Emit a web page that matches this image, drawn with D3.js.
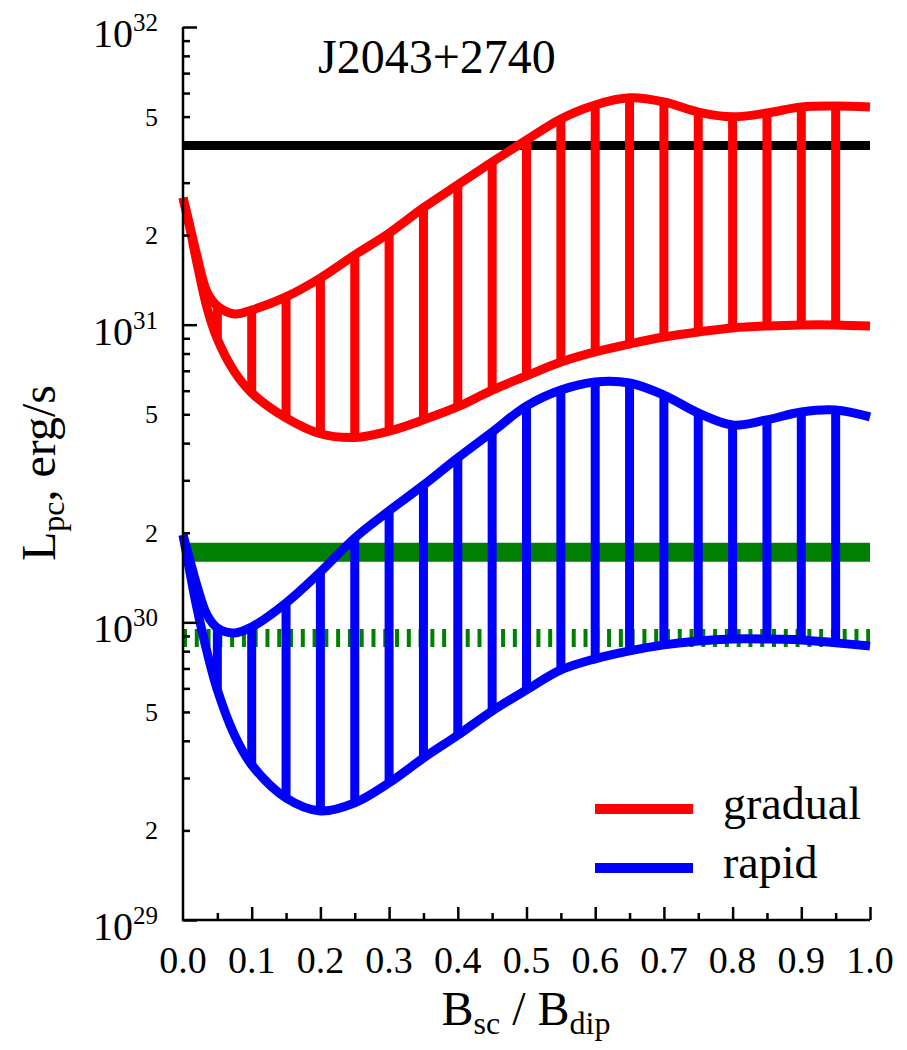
<!DOCTYPE html>
<html>
<head>
<meta charset="utf-8">
<script src="https://cdn.jsdelivr.net/npm/d3@7"></script>
<style>
  body { margin: 0; background: #fff; }
</style>
</head>
<body>
<div id="chart"></div>
<script>
// B_sc / B_dip sample points
const xs = [0, 0.01, 0.02, 0.035, 0.05, 0.075, 0.1, 0.15, 0.2, 0.25, 0.3, 0.35, 0.4, 0.45,
            0.5, 0.55, 0.6, 0.65, 0.7, 0.75, 0.8, 0.85, 0.9, 0.95, 1.0];

// gradual (red) upper / lower limits, erg/s
const gradualUpper = [2.67e31, 2.145e31, 1.715e31, 1.288e31, 1.155e31, 1.086e31, 1.12e31, 1.24e31,
                      1.435e31, 1.715e31, 2.03e31, 2.47e31, 2.95e31, 3.52e31, 4.17e31, 4.91e31,
                      5.47e31, 5.78e31, 5.60e31, 5.18e31, 4.99e31, 5.14e31, 5.39e31, 5.43e31, 5.39e31];
const gradualLower = [2.67e31, 2.11e31, 1.624e31, 1.138e31, 8.95e30, 6.94e30, 5.90e30, 4.86e30,
                      4.30e30, 4.18e30, 4.39e30, 4.79e30, 5.30e30, 6.03e30, 6.73e30, 7.49e30,
                      8.10e30, 8.61e30, 9.09e30, 9.45e30, 9.75e30, 9.90e30, 9.98e30, 9.98e30, 9.90e30];

// rapid (blue) upper / lower limits, erg/s
const rapidUpper = [1.966e30, 1.62e30, 1.335e30, 1.059e30, 9.58e29, 9.21e29, 9.65e29, 1.162e30,
                    1.477e30, 1.92e30, 2.37e30, 2.89e30, 3.57e30, 4.36e30, 5.33e30, 6.03e30,
                    6.42e30, 6.37e30, 5.80e30, 5.05e30, 4.60e30, 4.79e30, 5.09e30, 5.17e30, 4.90e30];
const rapidLower = [1.966e30, 1.477e30, 1.126e30, 7.95e29, 5.93e29, 4.18e29, 3.32e29, 2.57e29,
                    2.325e29, 2.475e29, 2.89e29, 3.50e29, 4.18e29, 5.04e29, 5.93e29, 6.92e29,
                    7.54e29, 8.02e29, 8.40e29, 8.66e29, 8.79e29, 8.79e29, 8.73e29, 8.53e29, 8.33e29];

// horizontal reference levels
const blackLevel = 4.0e31;
const greenSolidLevel = 1.72e30;
const greenDottedLevel = 8.86e29;

// ticks
const xMajor = [0, 0.1, 0.2, 0.3, 0.4, 0.5, 0.6, 0.7, 0.8, 0.9, 1.0];
const xMinor = [0.05, 0.15, 0.25, 0.35, 0.45, 0.55, 0.65, 0.75, 0.85, 0.95];
const decades = [29, 30, 31, 32];
const minorMult = [2, 3, 4, 5, 6, 7, 8, 9];
const labelMult = [2, 5];

const FONT = "'Liberation Serif', 'Times New Roman', Times, 'DejaVu Serif', serif";
const W = 907, H = 1050;
const svg = d3.select("#chart").append("svg")
    .attr("width", W)
    .attr("height", H)
    .attr("font-family", FONT)
    .style("font-family", FONT);

const x = d3.scaleLinear().domain([0, 1]).range([183, 870]);
const y = d3.scaleLog().domain([1e29, 1e32]).range([920, 27]);

// reference lines
svg.append("line")
    .attr("x1", x(0)).attr("x2", x(1))
    .attr("y1", y(blackLevel)).attr("y2", y(blackLevel))
    .attr("stroke", "#000").attr("stroke-width", 9);

svg.append("line")
    .attr("x1", x(0)).attr("x2", x(1))
    .attr("y1", y(greenSolidLevel)).attr("y2", y(greenSolidLevel))
    .attr("stroke", "#008000").attr("stroke-width", 19);

svg.append("line")
    .attr("x1", x(0)).attr("x2", x(1))
    .attr("y1", y(greenDottedLevel)).attr("y2", y(greenDottedLevel))
    .attr("stroke", "#008000").attr("stroke-width", 18)
    .attr("stroke-dasharray", "4 7.78");

// bands with vertical hatching
const line = d3.line()
    .x(d => x(d.x))
    .y(d => y(d.v))
    .curve(d3.curveCatmullRom.alpha(0.5));

function band(upper, lower, color) {
    const up = xs.map((v, i) => ({x: v, v: upper[i]}));
    const lo = xs.map((v, i) => ({x: v, v: lower[i]}));
    const hatch = xs.map((v, i) => ({x: v, hi: upper[i], lo: lower[i]}))
        .filter(d => d.x >= 0.049 && d.x <= 0.951 && Math.abs(d.x * 20 - Math.round(d.x * 20)) < 1e-6);

    const g = svg.append("g");
    g.selectAll("line.hatch")
        .data(hatch)
        .enter()
        .append("line")
            .attr("class", "hatch")
            .attr("x1", d => x(d.x)).attr("x2", d => x(d.x))
            .attr("y1", d => y(d.hi)).attr("y2", d => y(d.lo))
            .attr("stroke", color).attr("stroke-width", 9);
    [up, lo].forEach(pts => {
        g.append("path")
            .datum(pts)
            .attr("d", line)
            .attr("fill", "none")
            .attr("stroke", color)
            .attr("stroke-width", 9);
    });
}
band(gradualUpper, gradualLower, "#ff0000");
band(rapidUpper, rapidLower, "#0000ff");

// axes
const axisStyle = g => {
    g.attr("font-family", FONT);
    g.selectAll("line").attr("stroke", "#000").attr("stroke-width", 2.5);
};

svg.append("g")
    .attr("transform", "translate(0,920)")
    .call(d3.axisBottom(x).tickValues(xMinor).tickSize(-7).tickSizeOuter(0).tickFormat(""))
    .call(axisStyle)
    .select(".domain").remove();

svg.append("g")
    .attr("transform", "translate(0,920)")
    .call(d3.axisBottom(x).tickValues(xMajor.slice(1)).tickSize(-13).tickSizeOuter(0).tickFormat(""))
    .call(axisStyle)
    .select(".domain").remove();

const minorY = [];
decades.slice(0, 3).forEach(e => minorMult.forEach(m => minorY.push(m * Math.pow(10, e))));
svg.append("g")
    .attr("transform", "translate(183,0)")
    .call(d3.axisLeft(y).tickValues(minorY).tickSize(-7).tickSizeOuter(0).tickFormat(""))
    .call(axisStyle)
    .select(".domain").remove();

svg.append("g")
    .attr("transform", "translate(183,0)")
    .call(d3.axisLeft(y).tickValues(decades.map(e => Math.pow(10, e))).tickSize(-14).tickSizeOuter(0).tickFormat(""))
    .call(axisStyle)
    .select(".domain").remove();

// axis lines
svg.append("path")
    .attr("d", `M${x(0)},${y(1e32)}V${y(1e29)}H${x(1)}`)
    .attr("fill", "none")
    .attr("stroke", "#000")
    .attr("stroke-width", 2.5);

// x tick labels
svg.selectAll("text.xlab")
    .data(xMajor)
    .enter()
    .append("text")
        .attr("class", "xlab")
        .attr("x", d => x(d))
        .attr("y", 973)
        .attr("text-anchor", "middle")
        .style("font-size", "38px")
        .text(d3.format(".1f"));

// y decade labels
const dec = svg.selectAll("text.ydec")
    .data(decades)
    .enter()
    .append("text")
        .attr("class", "ydec")
        .attr("x", 158)
        .attr("y", d => y(Math.pow(10, d)) + 20)
        .attr("text-anchor", "end")
        .style("font-size", "40px");
dec.append("tspan").text("10");
dec.append("tspan").attr("dy", -16).style("font-size", "25px").text(d => d);

// y minor labels
const minorLabels = [];
decades.slice(0, 3).forEach(e => labelMult.forEach(m => minorLabels.push({m: m, v: m * Math.pow(10, e)})));
svg.selectAll("text.ymin")
    .data(minorLabels)
    .enter()
    .append("text")
        .attr("class", "ymin")
        .attr("x", 158)
        .attr("y", d => y(d.v) + 9)
        .attr("text-anchor", "end")
        .style("font-size", "26px")
        .text(d => d.m);

// title
svg.append("text")
    .attr("x", 318).attr("y", 73)
    .style("font-size", "48px")
    .text("J2043+2740");

// x axis title
const xt = svg.append("text")
    .attr("x", 526).attr("y", 1025)
    .attr("text-anchor", "middle")
    .style("font-size", "48px");
xt.append("tspan").text("B");
xt.append("tspan").attr("dy", 9).style("font-size", "32px").text("sc");
xt.append("tspan").attr("dy", -9).text(" / B");
xt.append("tspan").attr("dy", 9).style("font-size", "32px").text("dip");

// y axis title
const yt = svg.append("text")
    .attr("transform", "translate(55,473) rotate(-90)")
    .attr("text-anchor", "middle")
    .style("font-size", "48px");
yt.append("tspan").text("L");
yt.append("tspan").attr("dy", 9).style("font-size", "32px").text("pc");
yt.append("tspan").attr("dy", -9).text(", erg/s");

// legend
const legend = [{name: "gradual", color: "#ff0000", yy: 809},
                {name: "rapid", color: "#0000ff", yy: 868}];
const lg = svg.selectAll("g.legend")
    .data(legend)
    .enter()
    .append("g")
        .attr("class", "legend");
lg.append("line")
    .attr("x1", 595).attr("x2", 693)
    .attr("y1", d => d.yy).attr("y2", d => d.yy)
    .attr("stroke", d => d.color)
    .attr("stroke-width", 10);
lg.append("text")
    .attr("x", 723)
    .attr("y", d => d.yy + 10)
    .style("font-size", "46px")
    .text(d => d.name);
</script>
</body>
</html>
